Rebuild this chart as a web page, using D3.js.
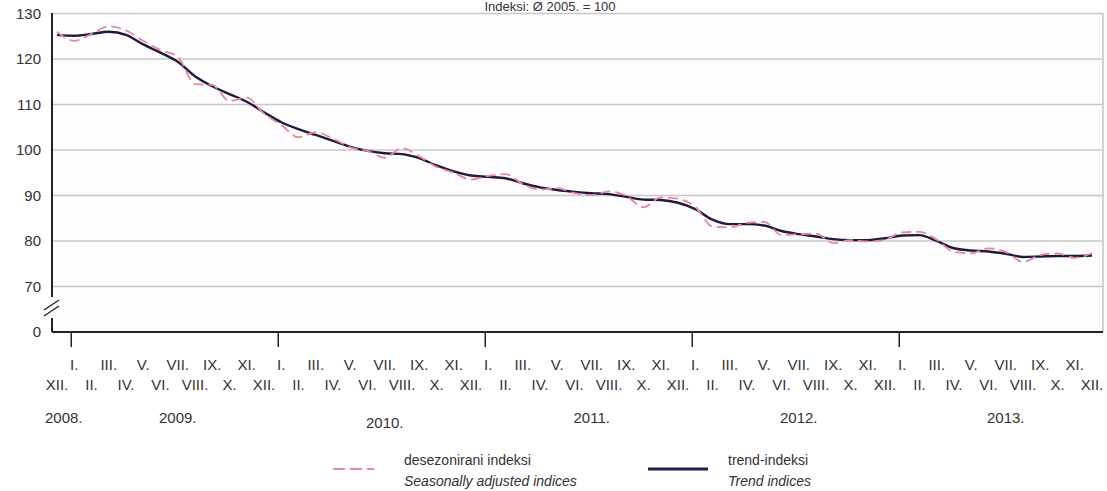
<!DOCTYPE html>
<html>
<head>
<meta charset="utf-8">
<script src="https://cdn.jsdelivr.net/npm/d3@7"></script>
<style>
  body { margin: 0; background: #fff; }
  text { font-family: "Liberation Sans", Arial, sans-serif; fill: #333; }
</style>
</head>
<body>
<div id="chart"></div>
<script>
var W = 1107, H = 491;

// months XII.2008 .. XII.2013
var roman = ["I.", "II.", "III.", "IV.", "V.", "VI.", "VII.", "VIII.", "IX.", "X.", "XI.", "XII."];
var months = ["2008-12"];
for (var yr = 2009; yr <= 2013; yr++)
  for (var m = 1; m <= 12; m++) months.push(yr + "-" + (m < 10 ? "0" + m : m));

var trend = [125.3, 125.1, 125.5, 126.0, 125.3, 123.2, 121.4, 119.4, 116.2, 114.0,
  112.3, 110.6, 108.3, 106.1, 104.6, 103.3, 102.0, 100.7, 99.8, 99.3,
  99.1, 98.2, 96.6, 95.3, 94.4, 94.1, 93.8, 92.7, 91.8, 91.2,
  90.8, 90.5, 90.3, 89.7, 89.1, 89.0, 88.4, 87.0, 84.7, 83.7,
  83.7, 83.4, 82.2, 81.5, 81.0, 80.4, 80.2, 80.2, 80.6, 81.2,
  81.3, 80.0, 78.4, 77.9, 77.7, 77.2, 76.5, 76.6, 76.7, 76.7, 76.8];

var seasAdj = [126.0, 124.0, 125.5, 127.2, 126.3, 124.0, 122.0, 120.5, 114.5, 114.3,
  110.8, 111.5, 108.0, 105.5, 102.8, 103.9, 102.5, 100.6, 99.8, 98.3,
  100.4, 98.6, 96.3, 95.0, 93.5, 94.3, 94.7, 92.5, 91.3, 91.6,
  90.5, 90.1, 90.9, 89.9, 87.4, 89.6, 89.3, 87.5, 83.2, 83.0,
  84.0, 84.2, 81.3, 81.5, 81.6, 79.5, 80.2, 79.9, 80.3, 81.9,
  82.0, 80.3, 77.6, 77.3, 78.4, 77.6, 75.4, 76.9, 77.3, 76.3, 77.3];

var yTicks = [60, 70, 80, 90, 100, 110, 120, 130];
var years = ["2008.", "2009.", "2010.", "2011.", "2012.", "2013."];
var yearAt = ["2008-12", "2009-07", "2010-07", "2011-07", "2012-07", "2013-07"];
var title = "Indeksi: Ø 2005. = 100";
var legendTop = ["desezonirani indeksi", "trend-indeksi"];
var legendBottom = ["Seasonally adjusted indices", "Trend indices"];

var plotL = 52, plotR = 1103, plotT = 13, plotB = 332;

var x = d3.scalePoint().domain(months).range([57, 1092]);
var y = d3.scaleLinear().domain([60, 130]).range([plotB, plotT + 0.5]);

var svg = d3.select("#chart").append("svg")
  .attr("width", W).attr("height", H);

svg.append("rect").attr("x", plotL).attr("y", plotT)
  .attr("width", plotR - plotL).attr("height", plotB - plotT)
  .attr("fill", "#fdfdfd");

svg.append("text").attr("x", 550).attr("y", 11)
  .attr("text-anchor", "middle").style("font-size", "13px")
  .text(title);

// gridlines
svg.selectAll(".grid").data(yTicks.filter(function(d){ return d >= 70; }))
  .enter().append("line")
  .attr("x1", plotL).attr("x2", plotR)
  .attr("y1", function(d){ return y(d); }).attr("y2", function(d){ return y(d); })
  .attr("stroke", "#c8c8c8").attr("stroke-width", 1.6);

svg.append("line").attr("x1", plotR).attr("x2", plotR)
  .attr("y1", plotT).attr("y2", plotB)
  .attr("stroke", "#c8c8c8").attr("stroke-width", 1.6);

// y tick labels (bottom one is the 0 after the break)
svg.selectAll(".ylab").data(yTicks).enter().append("text")
  .attr("x", 41).attr("y", function(d){ return y(d) + 5; })
  .attr("text-anchor", "end").style("font-size", "15px")
  .text(function(d){ return d === 60 ? "0" : d; });

// y axis with break
svg.append("line").attr("x1", plotL).attr("x2", plotL)
  .attr("y1", plotT).attr("y2", 297).attr("stroke", "#222").attr("stroke-width", 2);
svg.append("line").attr("x1", plotL).attr("x2", plotL)
  .attr("y1", 318).attr("y2", plotB).attr("stroke", "#222").attr("stroke-width", 2);
[0, 6].forEach(function(o){
  svg.append("line").attr("x1", 44).attr("y1", 310 + o).attr("x2", 59).attr("y2", 300 + o)
    .attr("stroke", "#222").attr("stroke-width", 1.4);
});

// x axis
svg.append("line").attr("x1", plotL).attr("x2", plotR)
  .attr("y1", plotB).attr("y2", plotB).attr("stroke", "#222").attr("stroke-width", 2);

svg.selectAll(".ytick").data(months.filter(function(d){ return d.slice(5) === "01"; }))
  .enter().append("line")
  .attr("x1", function(d){ return x(d) - 3; }).attr("x2", function(d){ return x(d) - 3; })
  .attr("y1", plotB).attr("y2", plotB + 15)
  .attr("stroke", "#222").attr("stroke-width", 1.5);

svg.selectAll(".mlab").data(months).enter().append("text")
  .attr("x", function(d){ return x(d); })
  .attr("y", function(d){ return +d.slice(5) % 2 === 1 ? 370 : 390; })
  .attr("text-anchor", "middle").style("font-size", "15px")
  .text(function(d){ return roman[+d.slice(5) - 1]; });

svg.selectAll(".yearlab").data(years).enter().append("text")
  .attr("x", function(d, i){ return i === 0 ? x(yearAt[i]) - 12 : x(yearAt[i]); })
  .attr("y", function(d, i){ return i === 2 ? 428 : 423; })
  .attr("text-anchor", function(d, i){ return i === 0 ? "start" : "middle"; })
  .style("font-size", "15px")
  .text(function(d){ return d; });

// series
var line = d3.line()
  .x(function(d, i){ return x(months[i]); })
  .y(function(d){ return y(d); })
  .curve(d3.curveMonotoneX);

svg.append("path").datum(trend).attr("d", line)
  .attr("fill", "none").attr("stroke", "#201a40").attr("stroke-width", 2.4);

svg.append("path").datum(seasAdj).attr("d", line)
  .attr("fill", "none").attr("stroke", "#e8889c").attr("stroke-width", 1.8)
  .attr("stroke-dasharray", "10,5");

// legend
svg.append("line").attr("x1", 333).attr("x2", 374).attr("y1", 469).attr("y2", 469)
  .attr("stroke", "#e8889c").attr("stroke-width", 2).attr("stroke-dasharray", "12,5");
svg.append("line").attr("x1", 648).attr("x2", 708).attr("y1", 469).attr("y2", 469)
  .attr("stroke", "#241d4a").attr("stroke-width", 3);

var lx = [404, 728];
svg.selectAll(".leg1").data(legendTop).enter().append("text")
  .attr("x", function(d, i){ return lx[i]; }).attr("y", 465)
  .style("font-size", "14px").text(function(d){ return d; });
svg.selectAll(".leg2").data(legendBottom).enter().append("text")
  .attr("x", function(d, i){ return lx[i]; }).attr("y", 486)
  .style("font-size", "14px").style("font-style", "italic")
  .text(function(d){ return d; });
</script>
</body>
</html>
